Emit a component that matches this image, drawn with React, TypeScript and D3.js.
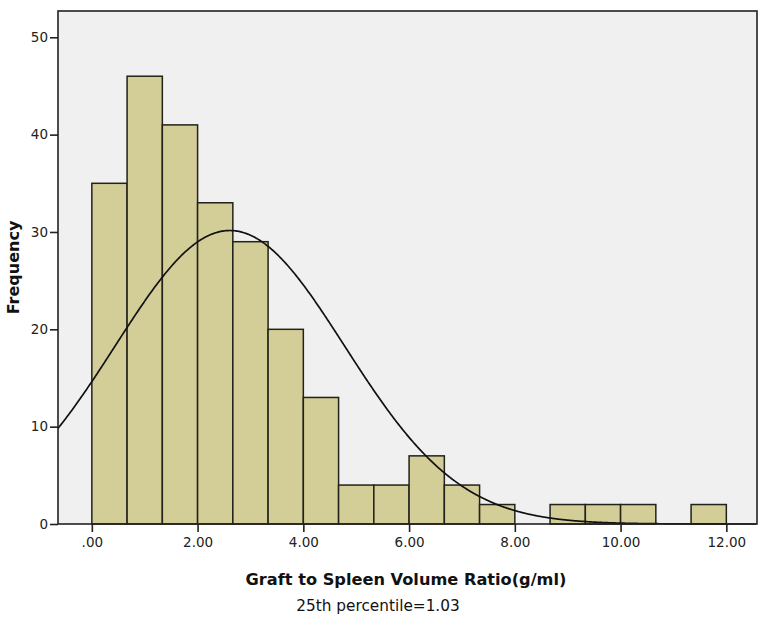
import * as d3 from "d3";
import { useEffect, useRef } from "react";

// histogram bins (width 2/3, starting at 0)
const binStarts = [0, 2 / 3, 4 / 3, 2, 8 / 3, 10 / 3, 4, 14 / 3, 16 / 3, 6, 20 / 3, 22 / 3, 8, 26 / 3, 28 / 3, 10, 32 / 3, 34 / 3];
const counts = [35, 46, 41, 33, 29, 20, 13, 4, 4, 7, 4, 2, 0, 2, 2, 2, 0, 2];
const binWidth = 2 / 3;
const xTicks = [0, 2, 4, 6, 8, 10, 12];
const yTicks = [0, 10, 20, 30, 40, 50];
// fitted normal curve
const mean = 2.61;
const stdDev = 2.17;

export default function App() {
  const svgRef = useRef<SVGSVGElement | null>(null);

  useEffect(() => {
    const width = 765;
    const height = 624;
    const left = 58, right = 757, top = 11, bottom = 524;
    const font = "'DejaVu Sans', sans-serif";

    const svg = d3.select(svgRef.current)
      .attr("width", width)
      .attr("height", height);
    svg.selectAll("*").remove();

    const x = d3.scaleLinear().domain([-0.64, 12.58]).range([left, right]);
    const y = d3.scaleLinear().domain([0, 52.7]).range([bottom, top]);

    svg.append("rect")
      .attr("width", width).attr("height", height).attr("fill", "#fff");

    svg.append("rect")
      .attr("x", left).attr("y", top)
      .attr("width", right - left).attr("height", bottom - top)
      .attr("fill", "#f0f0f0");

    const bins = binStarts.map((s, i) => ({ s, c: counts[i] })).filter(d => d.c > 0);
    svg.append("g").selectAll("rect")
      .data(bins)
      .enter().append("rect")
      .attr("x", d => x(d.s))
      .attr("y", d => y(d.c))
      .attr("width", d => x(d.s + binWidth) - x(d.s))
      .attr("height", d => y(0) - y(d.c))
      .attr("fill", "#d3cd98")
      .attr("stroke", "#22221a")
      .attr("stroke-width", 1.5);

    const total = d3.sum(counts);
    const density = (v: number) =>
      total * binWidth / (stdDev * Math.sqrt(2 * Math.PI)) * Math.exp(-0.5 * ((v - mean) / stdDev) ** 2);
    const xs = d3.range(-0.64, 12.58, 0.02);
    svg.append("path")
      .datum(xs)
      .attr("d", d3.line<number>().x(v => x(v)).y(v => y(density(v))).curve(d3.curveBasis))
      .attr("fill", "none")
      .attr("stroke", "#111")
      .attr("stroke-width", 1.7);

    svg.append("rect")
      .attr("x", left).attr("y", top)
      .attr("width", right - left).attr("height", bottom - top)
      .attr("fill", "none")
      .attr("stroke", "#222")
      .attr("stroke-width", 1.6);

    const yAxis = svg.append("g")
      .attr("transform", `translate(${left},0)`)
      .call(d3.axisLeft(y).tickValues(yTicks).tickSize(8).tickPadding(2).tickFormat(d3.format("d")));
    yAxis.select(".domain").remove();
    yAxis.selectAll("line").attr("stroke", "#222").attr("stroke-width", 1.6);
    yAxis.selectAll("text").attr("font-family", font).attr("font-size", 13.5).attr("fill", "#222");

    const xAxis = svg.append("g")
      .attr("transform", `translate(0,${bottom})`)
      .call(d3.axisBottom(x).tickValues(xTicks).tickSize(8).tickPadding(5)
        .tickFormat(d => d3.format(".2f")(d as number).replace(/^0\./, ".")));
    xAxis.select(".domain").remove();
    xAxis.selectAll("line").attr("stroke", "#222").attr("stroke-width", 1.6);
    xAxis.selectAll("text").attr("font-family", font).attr("font-size", 13.5).attr("fill", "#222");

    svg.append("text")
      .attr("x", 406).attr("y", 585)
      .attr("text-anchor", "middle")
      .attr("font-family", font).attr("font-weight", "bold").attr("font-size", 16.2)
      .attr("fill", "#111")
      .text("Graft to Spleen Volume Ratio(g/ml)");

    svg.append("text")
      .attr("x", 378).attr("y", 611)
      .attr("text-anchor", "middle")
      .attr("font-family", font).attr("font-size", 15.3)
      .attr("fill", "#111")
      .text("25th percentile=1.03");

    svg.append("text")
      .attr("transform", `translate(19,${(top + bottom) / 2}) rotate(-90)`)
      .attr("text-anchor", "middle")
      .attr("font-family", font).attr("font-weight", "bold").attr("font-size", 16)
      .attr("fill", "#111")
      .text("Frequency");
  }, []);

  return (
    <svg ref={svgRef} style={{ position: "absolute", left: 0, top: 0 }}></svg>
  );
}
